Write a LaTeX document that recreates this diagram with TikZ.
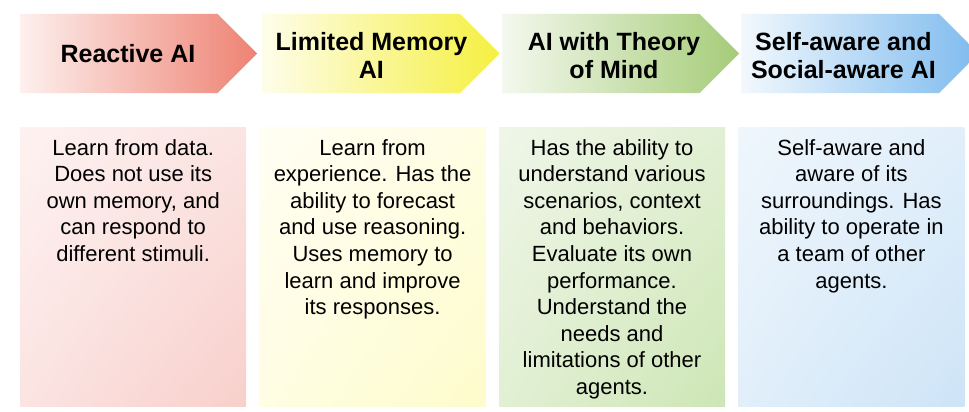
\documentclass[tikz,border=0pt]{standalone}
\usepackage{fontspec}
\setmainfont{Liberation Sans}
\usetikzlibrary{positioning,shapes.symbols,shadings}

\definecolor{redL}{HTML}{FDF0EE}
\definecolor{redR}{HTML}{EE8272}
\definecolor{yelL}{HTML}{FEFDEA}
\definecolor{yelR}{HTML}{F5F040}
\definecolor{grnL}{HTML}{F4F8EE}
\definecolor{grnR}{HTML}{A5CC78}
\definecolor{bluL}{HTML}{F2F8FD}
\definecolor{bluR}{HTML}{7EBBEE}
\definecolor{redA}{HTML}{FDF2F1}
\definecolor{redB}{HTML}{F8CFCB}
\definecolor{yelA}{HTML}{FFFEF3}
\definecolor{yelB}{HTML}{FEFCCB}
\definecolor{grnA}{HTML}{EFF6E8}
\definecolor{grnB}{HTML}{CDE6B5}
\definecolor{bluA}{HTML}{EFF6FC}
\definecolor{bluB}{HTML}{CDE4F7}

\tikzset{
  head/.style={signal, signal to=east, signal pointer angle=90,
    minimum width=237pt, minimum height=79pt, inner sep=0pt},
  headtxt/.style={align=center, inner sep=0pt,
    font=\bfseries\fontsize{25}{28}\selectfont},
  card/.style={rectangle, minimum width=226pt, minimum height=279pt, inner sep=0pt},
  desc/.style={align=center, inner sep=0pt, anchor=north,
    font=\fontsize{22}{26.6}\selectfont}
}

\begin{document}
\begin{tikzpicture}[x=1pt,y=-1pt]
  \fill[white] (0,0) rectangle (969,412);
  \useasboundingbox (0,0) rectangle (969,412);

  \node[head, left color=redL, right color=redR, anchor=west] (h1) at (20,53.5) {};
  \node[head, left color=yelL, right color=yelR, right=5pt of h1] (h2) {};
  \node[head, left color=grnL, right color=grnR, right=2pt of h2] (h3) {};
  \node[head, left color=bluL, right color=bluR, right=2pt of h3] (h4) {};

  \node[headtxt] (l1) at ([xshift=9pt]h1.center) {Reactive AI};
  \node[headtxt] (l2) at ([xshift=10pt,yshift=-2pt]h2.center) {Limited Memory\\AI};
  \node[headtxt] (l3) at ([xshift=13pt,yshift=-2pt]h3.center) {AI with Theory\\of Mind};
  \node[headtxt] (l4) at ([xshift=3pt,yshift=-2pt]h4.center) {Self-aware and\\Social-aware AI};

  \node[card, upper left=redA, upper right=redA!60!redB, lower left=redA!60!redB, lower right=redB, anchor=north west] (b1) at (20,127) {};
  \node[card, upper left=yelA, upper right=yelA!60!yelB, lower left=yelA!60!yelB, lower right=yelB, right=13pt of b1] (b2) {};
  \node[card, upper left=grnA, upper right=grnA!60!grnB, lower left=grnA!60!grnB, lower right=grnB, right=13pt of b2] (b3) {};
  \node[card, upper left=bluA, upper right=bluA!60!bluB, lower left=bluA!60!bluB, lower right=bluB, right=13pt of b3] (b4) {};

  \node[desc] (t1) at ([yshift=-12pt]b1.north) {Learn from data.\\Does not use its\\own memory, and\\can respond to\\different stimuli.};
  \node[desc] (t2) at ([yshift=-12pt]b2.north) {Learn from\\experience. Has the\\ability to forecast\\and use reasoning.\\Uses memory to\\learn and improve\\its responses.};
  \node[desc] (t3) at ([yshift=-12pt]b3.north) {Has the ability to\\understand various\\scenarios, context\\and behaviors.\\Evaluate its own\\performance.\\Understand the\\needs and\\limitations of other\\agents.};
  \node[desc] (t4) at ([yshift=-12pt]b4.north) {Self-aware and\\aware of its\\surroundings. Has\\ability to operate in\\a team of other\\agents.};
\end{tikzpicture}
\end{document}
